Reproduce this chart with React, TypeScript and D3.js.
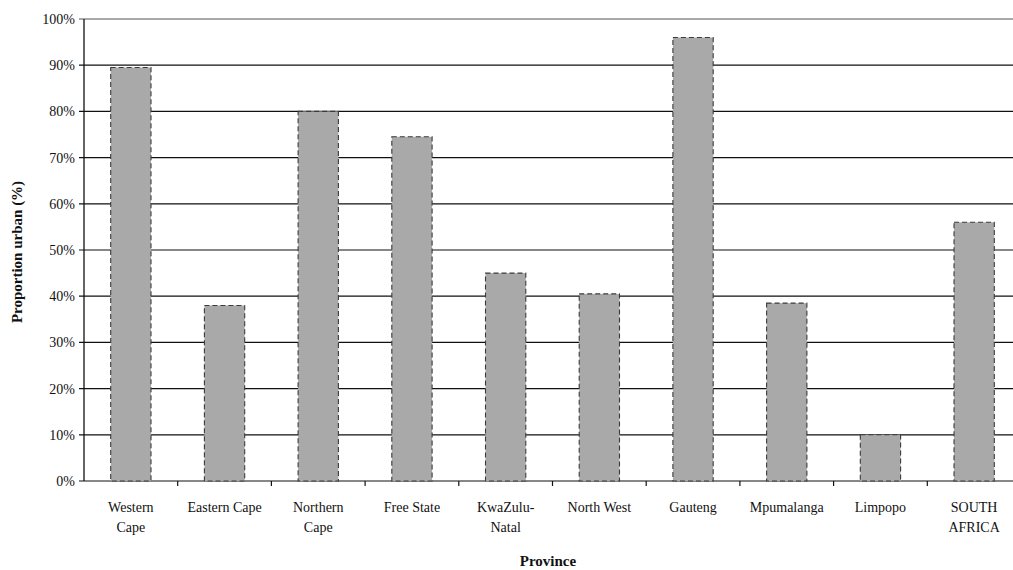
import React from "react";
import * as d3 from "d3";

const categories = [
  ["Western", "Cape"],
  ["Eastern Cape"],
  ["Northern", "Cape"],
  ["Free State"],
  ["KwaZulu-", "Natal"],
  ["North West"],
  ["Gauteng"],
  ["Mpumalanga"],
  ["Limpopo"],
  ["SOUTH", "AFRICA"],
];
const values = [89.5, 38, 80, 74.5, 45, 40.5, 96, 38.5, 10, 56];
const yTicks = [0, 10, 20, 30, 40, 50, 60, 70, 80, 90, 100];

const W = 1013;
const H = 570;
const left = 84;
const top = 19;
const bottom = 481;
const bandRight = 1021;

export default function App() {
  const keys = categories.map((c) => c.join(" "));
  const x = d3.scaleBand<string>().domain(keys).range([left, bandRight]).padding(0);
  const y = d3.scaleLinear().domain([0, 100]).range([bottom, top]);
  const bw = x.bandwidth();
  const barW = bw * 0.43;
  const font = "'Liberation Serif', 'Times New Roman', serif";

  return (
    <svg
      width={W}
      height={H}
      style={{ position: "absolute", left: 0, top: 0, background: "#fff" }}
      fontFamily={font}
    >
      {/* gridlines */}
      {yTicks.map((t) => (
        <line
          key={"g" + t}
          x1={left - 5}
          x2={W}
          y1={y(t)}
          y2={y(t)}
          stroke={t === 100 ? "#555" : "#111"}
          strokeWidth={1.2}
        />
      ))}
      {/* y axis */}
      <line x1={left} x2={left} y1={top} y2={bottom} stroke="#111" strokeWidth={1.3} />
      {/* bars */}
      {values.map((v, i) => {
        const cx = (x(keys[i]) as number) + bw / 2;
        return (
          <rect
            key={"b" + i}
            x={cx - barW / 2}
            y={y(v)}
            width={barW}
            height={bottom - y(v)}
            fill="#a9a9a9"
            stroke="#3a3a3a"
            strokeWidth={1.1}
            strokeDasharray="5 3"
          />
        );
      })}
      {/* x axis ticks */}
      {keys.slice(1).map((k) => (
        <line
          key={"t" + k}
          x1={x(k) as number}
          x2={x(k) as number}
          y1={bottom}
          y2={bottom + 5}
          stroke="#111"
          strokeWidth={1.2}
        />
      ))}
      {/* y tick labels */}
      {yTicks.map((t) => (
        <text
          key={"l" + t}
          x={left - 9}
          y={y(t)}
          dy="0.35em"
          textAnchor="end"
          fontSize={14}
          fill="#111"
        >
          {t + "%"}
        </text>
      ))}
      {/* x labels */}
      {categories.map((lines, i) => {
        const cx = (x(keys[i]) as number) + bw / 2;
        return (
          <text key={"x" + i} x={cx} y={512} textAnchor="middle" fontSize={14} fill="#111">
            {lines.map((ln, j) => (
              <tspan key={j} x={cx} dy={j === 0 ? 0 : 20}>
                {ln}
              </tspan>
            ))}
          </text>
        );
      })}
      {/* axis titles */}
      <text x={548} y={566} textAnchor="middle" fontSize={15} fontWeight="bold" fill="#111">
        Province
      </text>
      <text
        transform={`translate(22, ${(top + bottom) / 2 + 2}) rotate(-90)`}
        textAnchor="middle"
        fontSize={15}
        fontWeight="bold"
        fill="#111"
      >
        Proportion urban (%)
      </text>
    </svg>
  );
}
